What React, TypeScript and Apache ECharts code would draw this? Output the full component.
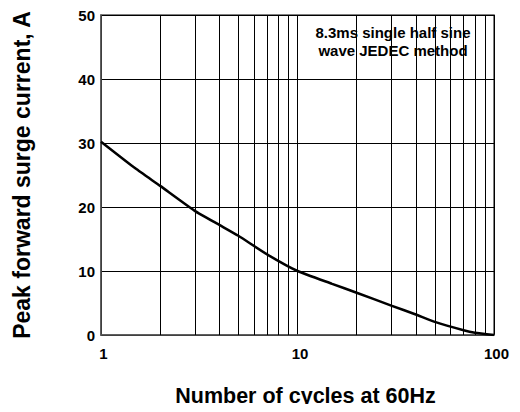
import React, { useEffect, useRef } from "react";
import * as echarts from "echarts";

const cycles = [1, 1.5, 2, 3, 4, 5, 7, 10, 15, 20, 30, 40, 50, 70, 80, 100];
const current = [30.2, 26.0, 23.3, 19.4, 17.2, 15.5, 12.6, 10.0, 8.0, 6.6, 4.6, 3.2, 2.05, 0.75, 0.36, 0.0];
const minorGridX = [2, 3, 4, 5, 6, 7, 8, 9, 20, 30, 40, 50, 60, 70, 80, 90];
const noteLines = ["8.3ms single half sine", "wave JEDEC method"];

const FONT = "'Liberation Sans', Arial, sans-serif";

export default function App() {
  const ref = useRef<HTMLDivElement>(null);
  useEffect(() => {
    if (!ref.current) return;
    const chart = echarts.init(ref.current, undefined, { renderer: "svg" });
    chart.setOption({
      animation: false,
      backgroundColor: "#fff",
      grid: { left: 101, right: 26, top: 15, bottom: 77, show: true, borderColor: "#555", borderWidth: 1.5 },
      xAxis: {
        type: "log",
        min: 1,
        max: 100,
        logBase: 10,
        name: "Number of cycles at 60Hz",
        nameLocation: "middle",
        nameGap: 50,
        nameTextStyle: { fontFamily: FONT, fontWeight: "bold", fontSize: 21.5, color: "#000", padding: [0, 0, 0, 16] },
        axisLine: { lineStyle: { color: "#555", width: 1.5 } },
        axisTick: { show: false },
        axisLabel: { fontFamily: FONT, fontWeight: "bold", fontSize: 15, color: "#000", margin: 11, padding: [0, 0, 0, 5] },
        splitLine: { show: true, lineStyle: { color: "#000", width: 1 } },
      },
      yAxis: {
        type: "value",
        min: 0,
        max: 50,
        interval: 10,
        name: "Peak forward surge current, A",
        nameLocation: "middle",
        nameGap: 68,
        nameTextStyle: { fontFamily: FONT, fontWeight: "bold", fontSize: 23, color: "#000" },
        axisLine: { show: true, lineStyle: { color: "#555", width: 1.5 } },
        axisTick: { show: false },
        axisLabel: { fontFamily: FONT, fontWeight: "bold", fontSize: 15, color: "#000", margin: 6 },
        splitLine: { show: true, lineStyle: { color: "#000", width: 1 } },
      },
      graphic: [
        {
          type: "group",
          z: 100,
          children: [
            { type: "rect", shape: { x: 300, y: 17, width: 170, height: 45 }, style: { fill: "#fff" } },
            {
              type: "text",
              x: 393,
              y: 23,
              style: {
                text: noteLines.join("\n"),
                fontFamily: FONT,
                fontWeight: "bold",
                fontSize: 15,
                lineHeight: 18,
                fill: "#000",
                align: "center",
              },
            },
          ],
        },
      ],
      series: [
        {
          type: "line",
          data: cycles.map((c, i) => [c, current[i]]),
          symbol: "none",
          smooth: 0.15,
          lineStyle: { color: "#000", width: 2.5 },
          z: 5,
          markLine: {
            silent: true,
            symbol: "none",
            label: { show: false },
            lineStyle: { color: "#000", width: 1, type: "solid" },
            data: minorGridX.map((v) => ({ xAxis: v })),
            z: 1,
          },
        },
      ],
    });
    return () => chart.dispose();
  }, []);
  return <div ref={ref} style={{ width: 520, height: 412, margin: -8 }} />;
}
